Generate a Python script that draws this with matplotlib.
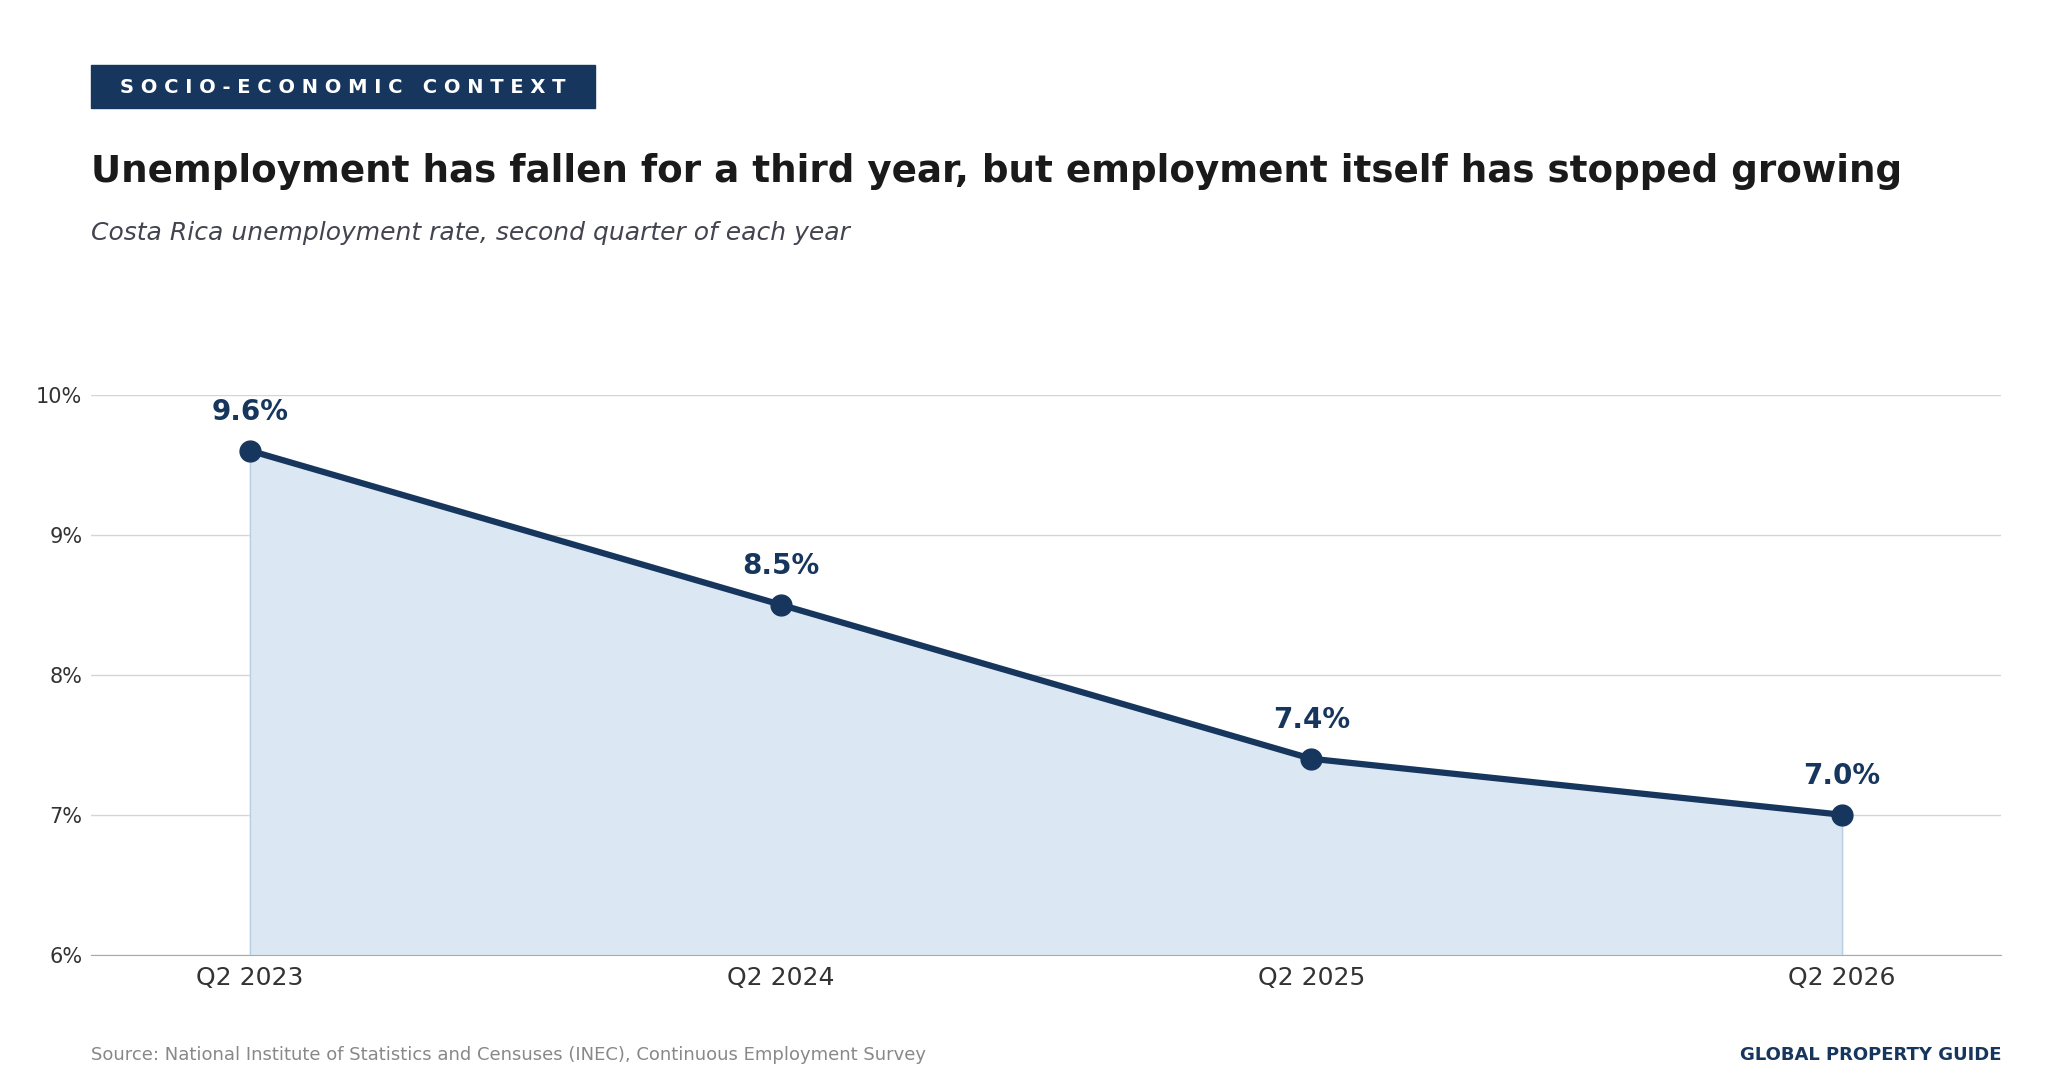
import matplotlib.pyplot as plt
from matplotlib.patches import Rectangle

quarters = ["Q2 2023", "Q2 2024", "Q2 2025", "Q2 2026"]
rates = [9.6, 8.5, 7.4, 7.0]
yticks = [6, 7, 8, 9, 10]

NAVY = "#17365d"
FILL = "#dbe8f3"

fig = plt.figure(figsize=(20.6, 10.9), dpi=100)
ax = fig.add_axes([0.044, 0.124, 0.9275, 0.514])

x = range(len(quarters))
ax.fill_between(x, rates, 6, color=FILL, zorder=1)
ax.plot([0, 0], [6, rates[0]], color="#b8cfe3", lw=1, zorder=1)
ax.plot([3, 3], [6, rates[-1]], color="#b8cfe3", lw=1, zorder=1)
ax.plot(x, rates, color=NAVY, lw=4.5, marker="o", ms=15, zorder=3)
for i, r in zip(x, rates):
    ax.annotate(f"{r:.1f}%", (i, r), xytext=(0, 18), textcoords="offset points",
                ha="center", va="bottom", fontsize=20, fontweight="bold", color=NAVY)

ax.set_xlim(-0.3, 3.3)
ax.set_ylim(6, 10)
ax.set_yticks(yticks)
ax.set_yticklabels([f"{v}%" for v in yticks], fontsize=15, color="#333333")
ax.set_xticks(list(x))
ax.set_xticklabels(quarters, fontsize=18, color="#333333")
ax.grid(axis="y", color="#d5d5d5", lw=1)
ax.set_axisbelow(True)
for s in ["top", "right", "left"]:
    ax.spines[s].set_visible(False)
ax.spines["bottom"].set_color("#aaaaaa")
ax.tick_params(axis="both", length=0, pad=8)
ax.tick_params(axis="y", pad=6)

fig.patches.append(Rectangle((0.044, 0.901), 0.245, 0.039, transform=fig.transFigure,
                             color=NAVY, zorder=0))
fig.text(0.1665, 0.920, "S O C I O - E C O N O M I C   C O N T E X T", ha="center", va="center",
         fontsize=14, fontweight="bold", color="white")
fig.text(0.044, 0.843, "Unemployment has fallen for a third year, but employment itself has stopped growing",
         fontsize=26.8, fontweight="bold", color="#1a1a1a", va="center")
fig.text(0.044, 0.786, "Costa Rica unemployment rate, second quarter of each year",
         fontsize=18, style="italic", color="#444450", va="center")
fig.text(0.044, 0.032, "Source: National Institute of Statistics and Censuses (INEC), Continuous Employment Survey",
         fontsize=13, color="#888888", va="center")
fig.text(0.9715, 0.032, "GLOBAL PROPERTY GUIDE", fontsize=13, fontweight="bold",
         color=NAVY, ha="right", va="center")

fig.savefig("out.png", dpi=100)
